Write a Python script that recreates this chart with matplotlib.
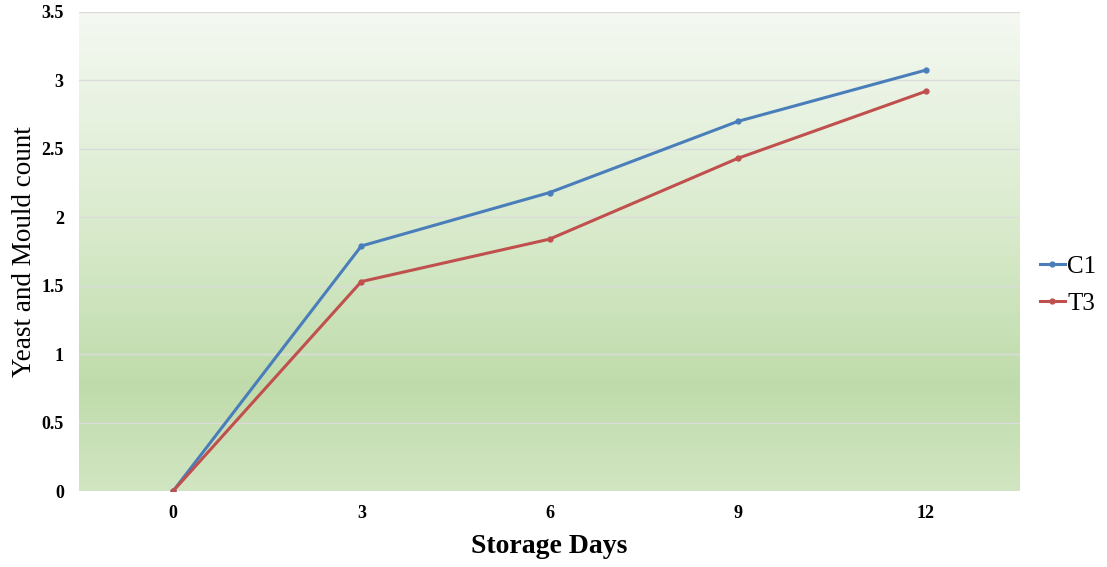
import numpy as np
import matplotlib.pyplot as plt
from matplotlib.colors import LinearSegmentedColormap

days = ['0', '3', '6', '9', '12']
c1 = [0.0, 1.79, 2.18, 2.70, 3.075]
t3 = [0.0, 1.53, 1.84, 2.43, 2.92]

plt.rcParams['font.family'] = ['Liberation Serif', 'DejaVu Serif']

fig = plt.figure(figsize=(11.07, 5.67), dpi=100)
ax = fig.add_axes([0.0714, 0.134, 0.85, 0.845])

# gradient background (bottom -> top)
cmap = LinearSegmentedColormap.from_list('bg', [
    (0.0, (0.82, 0.90, 0.76)),
    (0.22, (0.75, 0.86, 0.67)),
    (0.55, (0.85, 0.92, 0.80)),
    (1.0, (0.96, 0.975, 0.95)),
])
grad = np.linspace(0, 1, 256).reshape(-1, 1)
ax.imshow(grad, cmap=cmap, origin='lower', aspect='auto',
          extent=[-0.5, 4.5, 0, 3.5], zorder=0)

for v in np.arange(0, 3.51, 0.5):
    ax.axhline(v, color='#dcdcdc', lw=1, zorder=1)

x = np.arange(len(days))
ax.plot(x, c1, color='#4a7ebb', lw=2.2, marker='o', ms=3.5, label='C1', zorder=3)
ax.plot(x, t3, color='#c0504d', lw=2.2, marker='o', ms=3.5, label='T3', zorder=3)

ax.set_xlim(-0.5, 4.5)
ax.set_ylim(0, 3.5)
ax.set_xticks(x)
ax.set_xticklabels(days)
ax.set_yticks(np.arange(0, 3.51, 0.5))
ax.set_yticklabels(['0', '0.5', '1', '1.5', '2', '2.5', '3', '3.5'])
for lab in ax.get_xticklabels() + ax.get_yticklabels():
    lab.set_fontweight('bold')
    lab.set_fontsize(13)
ax.tick_params(axis='y', length=0, pad=11)
ax.tick_params(axis='x', length=0, pad=10)
for s in ax.spines.values():
    s.set_visible(False)

ax.set_xlabel('Storage Days', fontsize=20, fontweight='bold', labelpad=9)
ax.set_ylabel('Yeast and Mould count', fontsize=19.5, labelpad=3)

ax.legend(loc='center left', bbox_to_anchor=(1.021, 0.43), frameon=False,
          fontsize=18, handlelength=1.0, handletextpad=0.1, labelspacing=0.6,
          borderaxespad=0, borderpad=0)

fig.savefig('out.png', dpi=100)
